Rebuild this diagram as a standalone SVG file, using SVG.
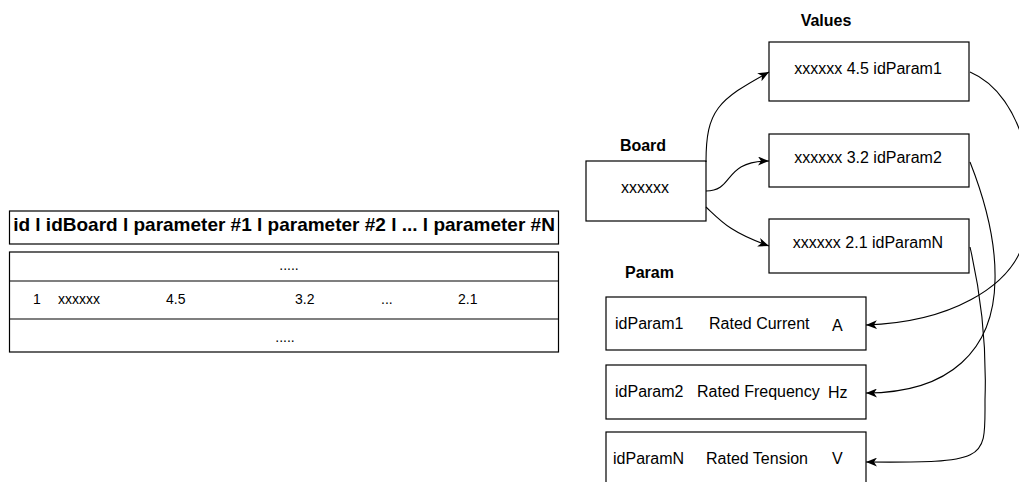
<svg xmlns="http://www.w3.org/2000/svg" width="1019" height="482" viewBox="0 0 1019 482">
  <style>
    .box { fill: #fff; stroke: #000; stroke-width: 1.2; }
    .edge { fill: none; stroke: #000; stroke-width: 1.1; }
    text { font-family: "Liberation Sans", Arial, sans-serif; fill: #000; }
    .title { font-size: 16px; font-weight: bold; }
    .head { font-size: 19px; font-weight: bold; }
    .cell { font-size: 14px; }
    .lbl { font-size: 16px; }
  </style>
  <defs>
    <marker id="arrow" viewBox="0 0 11 9" refX="11" refY="4.5" markerWidth="11" markerHeight="9" markerUnits="userSpaceOnUse" orient="auto">
      <path d="M0,0 L11,4.5 L0,9 L3,4.5 z" fill="#000"/>
    </marker>
  </defs>

  <!-- table -->
  <g id="table-header">
    <rect class="box" x="9.5" y="211" width="549" height="33"/>
    <text class="head" x="284" y="231" text-anchor="middle">id l idBoard l parameter #1 l parameter #2 l ... l parameter #N</text>
  </g>
  <g id="table-rows">
    <rect class="box" x="9.5" y="252" width="549" height="100"/>
    <line class="edge" x1="9.5" y1="281" x2="558.5" y2="281"/>
    <line class="edge" x1="9.5" y1="319" x2="558.5" y2="319"/>
    <text class="cell" x="289" y="270" text-anchor="middle" font-size="13">.....</text>
    <text class="cell" x="33" y="304">1</text>
    <text class="cell" x="58" y="304" font-size="16">xxxxxx</text>
    <text class="cell" x="166" y="304">4.5</text>
    <text class="cell" x="295" y="304">3.2</text>
    <text class="cell" x="381" y="304">...</text>
    <text class="cell" x="458" y="304">2.1</text>
    <text class="cell" x="285" y="342" text-anchor="middle" font-size="13">.....</text>
  </g>

  <!-- board -->
  <g id="board">
    <text class="title" x="643" y="151" text-anchor="middle">Board</text>
    <rect class="box" x="586" y="161" width="120" height="60"/>
    <text class="lbl" x="645" y="193" text-anchor="middle">xxxxxx</text>
  </g>

  <!-- values -->
  <g id="values-title">
    <text class="title" x="826" y="26" text-anchor="middle">Values</text>
  </g>
  <g id="value-1">
    <rect class="box" x="769" y="42" width="200" height="59"/>
    <text class="lbl" x="868" y="74" text-anchor="middle">xxxxxx 4.5 idParam1</text>
  </g>
  <g id="value-2">
    <rect class="box" x="769" y="134" width="200" height="53"/>
    <text class="lbl" x="868" y="163" text-anchor="middle">xxxxxx 3.2 idParam2</text>
  </g>
  <g id="value-n">
    <rect class="box" x="769" y="219" width="200" height="54"/>
    <text class="lbl" x="868" y="248" text-anchor="middle">xxxxxx 2.1 idParamN</text>
  </g>

  <!-- params -->
  <g id="param-title">
    <text class="title" x="625" y="278">Param</text>
  </g>
  <g id="param-1">
    <rect class="box" x="606" y="297" width="260" height="53"/>
    <text class="lbl" x="615" y="329">idParam1</text>
    <text class="lbl" x="709" y="329">Rated Current</text>
    <text class="lbl" x="832" y="331">A</text>
  </g>
  <g id="param-2">
    <rect class="box" x="606" y="365" width="260" height="54"/>
    <text class="lbl" x="615" y="397">idParam2</text>
    <text class="lbl" x="697" y="397">Rated Frequency</text>
    <text class="lbl" x="828" y="398">Hz</text>
  </g>
  <g id="param-n">
    <rect class="box" x="606" y="432" width="260" height="60"/>
    <text class="lbl" x="613" y="464">idParamN</text>
    <text class="lbl" x="706" y="464">Rated Tension</text>
    <text class="lbl" x="832" y="464">V</text>
  </g>

  <!-- connectors -->
  <g id="connectors">
    <path class="edge" marker-end="url(#arrow)" d="M706,162 C706,110 718,100 769,72"/>
    <path class="edge" marker-end="url(#arrow)" d="M706,191 C735,191 722,161 769,161"/>
    <path class="edge" marker-end="url(#arrow)" d="M706,207 C722,222 730,232 769,246"/>
    <path class="edge" marker-end="url(#arrow)" d="M970,72 C1025,95 1045,190 1020,252 C1005,285 955,322 866,325"/>
    <path class="edge" marker-end="url(#arrow)" d="M970,162 C985,200 996,240 995,280 C994,350 950,393 866,393"/>
    <path class="edge" marker-end="url(#arrow)" d="M970,247 C980,290 987,340 985,400 C985,460 990,463 866,462"/>
  </g>
</svg>
